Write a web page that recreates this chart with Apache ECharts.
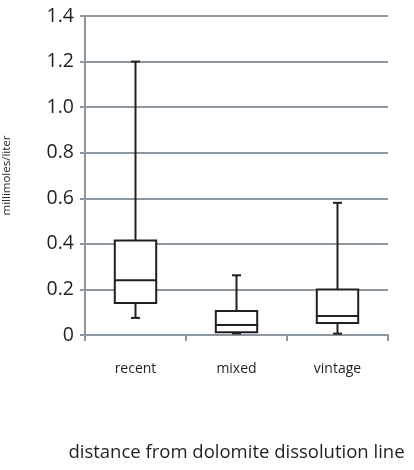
<!DOCTYPE html>
<html><head><meta charset="utf-8">
<script src="https://cdn.jsdelivr.net/npm/echarts@6/dist/echarts.min.js"></script>
<style>html,body{margin:0;padding:0;background:#fff}#c{width:414px;height:470px}</style>
</head><body><div id="c"></div>
<script>
const categories = ['recent', 'mixed', 'vintage'];
const mins =    [0.075, 0.007, 0.006];
const q1s =     [0.14, 0.012, 0.053];
const medians = [0.24, 0.044, 0.083];
const q3s =     [0.415, 0.105, 0.2];
const maxs =    [1.2, 0.262, 0.58];
const yTicks = [0, 0.2, 0.4, 0.6, 0.8, 1.0, 1.2, 1.4];

const data = categories.map((c, i) => [i, mins[i], q1s[i], medians[i], q3s[i], maxs[i]]);
const chart = echarts.init(document.getElementById('c'));
const font = '"Open Sans", sans-serif';
chart.setOption({
  animation: false,
  grid: {left: 85, right: 26, top: 16, bottom: 135, containLabel: false, outerBoundsMode: 'none'},
  xAxis: {
    type: 'category', data: categories,
    axisLine: {lineStyle: {color: '#8e979e', width: 2}},
    axisTick: {show: true, length: 6, lineStyle: {color: '#8e979e', width: 2}},
    axisLabel: {color: '#231f20', fontSize: 14, fontFamily: font, margin: 27},
    name: 'distance from dolomite dissolution line', nameLocation: 'middle', nameGap: 108,
    nameTextStyle: {color: '#231f20', fontSize: 18.5, fontFamily: font}
  },
  yAxis: {
    type: 'value', min: 0, max: 1.4, interval: 0.2,
    axisLine: {show: true, lineStyle: {color: '#8e979e', width: 2}},
    axisTick: {show: true, length: 5, lineStyle: {color: '#8e979e', width: 2}},
    splitLine: {lineStyle: {color: '#8e979e', width: 2}},
    axisLabel: {color: '#231f20', fontSize: 19.5, fontFamily: font, margin: 11,
      formatter: v => yTicks.includes(+v.toFixed(1)) ? (v === 0 ? '0' : v.toFixed(1)) : ''},
    name: 'millimoles/liter', nameLocation: 'middle', nameGap: 72,
    nameTextStyle: {color: '#231f20', fontSize: 11.5, fontFamily: font}
  },
  series: [{
    type: 'custom',
    data: data,
    encode: {x: 0, y: [1, 2, 3, 4, 5]},
    renderItem: function (params, api) {
      const x = api.value(0);
      const pMin = api.coord([x, api.value(1)]);
      const pQ1 = api.coord([x, api.value(2)]);
      const pMed = api.coord([x, api.value(3)]);
      const pQ3 = api.coord([x, api.value(4)]);
      const pMax = api.coord([x, api.value(5)]);
      const bw = api.size([1, 0])[0] * 0.41;
      const cap = 9;
      const cx = pMed[0];
      const st = {stroke: '#231f20', lineWidth: 2, fill: null};
      return {type: 'group', children: [
        {type: 'line', shape: {x1: cx, y1: pQ3[1], x2: cx, y2: pMax[1]}, style: st},
        {type: 'line', shape: {x1: cx - cap / 2, y1: pMax[1], x2: cx + cap / 2, y2: pMax[1]}, style: st},
        {type: 'line', shape: {x1: cx, y1: pQ1[1], x2: cx, y2: pMin[1]}, style: st},
        {type: 'line', shape: {x1: cx - cap / 2, y1: pMin[1], x2: cx + cap / 2, y2: pMin[1]}, style: st},
        {type: 'rect', shape: {x: cx - bw / 2, y: pQ3[1], width: bw, height: pQ1[1] - pQ3[1]}, style: {stroke: '#231f20', lineWidth: 2, fill: '#fff'}},
        {type: 'line', shape: {x1: cx - bw / 2, y1: pMed[1], x2: cx + bw / 2, y2: pMed[1]}, style: st}
      ]};
    }
  }]
});
</script></body></html>
